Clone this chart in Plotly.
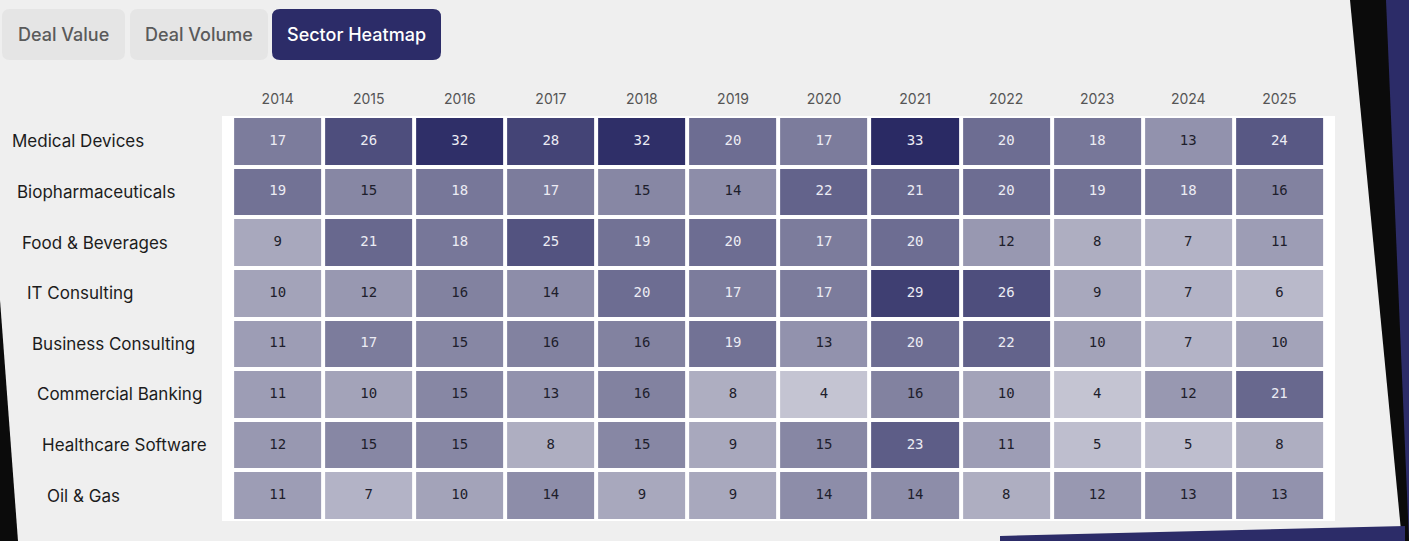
import plotly.graph_objects as go

years = ["2014", "2015", "2016", "2017", "2018", "2019", "2020", "2021", "2022", "2023", "2024", "2025"]
sectors = ["Medical Devices", "Biopharmaceuticals", "Food & Beverages", "IT Consulting",
           "Business Consulting", "Commercial Banking", "Healthcare Software", "Oil & Gas"]

medical_devices = [17, 26, 32, 28, 32, 20, 17, 33, 20, 18, 13, 24]
biopharmaceuticals = [19, 15, 18, 17, 15, 14, 22, 21, 20, 19, 18, 16]
food_beverages = [9, 21, 18, 25, 19, 20, 17, 20, 12, 8, 7, 11]
it_consulting = [10, 12, 16, 14, 20, 17, 17, 29, 26, 9, 7, 6]
business_consulting = [11, 17, 15, 16, 16, 19, 13, 20, 22, 10, 7, 10]
commercial_banking = [11, 10, 15, 13, 16, 8, 4, 16, 10, 4, 12, 21]
healthcare_software = [12, 15, 15, 8, 15, 9, 15, 23, 11, 5, 5, 8]
oil_gas = [11, 7, 10, 14, 9, 9, 14, 14, 8, 12, 13, 13]

tabs = ["Deal Value", "Deal Volume", "Sector Heatmap"]

z = [medical_devices, biopharmaceuticals, food_beverages, it_consulting,
     business_consulting, commercial_banking, healthcare_software, oil_gas]

W, H = 1409, 541
ML, MR, MT, MB = 222, 74, 116, 20
PW, PH = W - ML - MR, H - MT - MB


def px(x):
    return (x - ML) / PW


def py(y):
    return (H - MB - y) / PH


def rounded_rect(x0, y0, x1, y1, r):
    pts = [
        f"M {px(x0 + r)},{py(y0)}",
        f"L {px(x1 - r)},{py(y0)}",
        f"Q {px(x1)},{py(y0)} {px(x1)},{py(y0 + r)}",
        f"L {px(x1)},{py(y1 - r)}",
        f"Q {px(x1)},{py(y1)} {px(x1 - r)},{py(y1)}",
        f"L {px(x0 + r)},{py(y1)}",
        f"Q {px(x0)},{py(y1)} {px(x0)},{py(y1 - r)}",
        f"L {px(x0)},{py(y0 + r)}",
        f"Q {px(x0)},{py(y0)} {px(x0 + r)},{py(y0)}",
        "Z",
    ]
    return " ".join(pts)


fig = go.Figure()
fig.add_trace(go.Heatmap(
    z=z, x=years, y=sectors,
    colorscale=[[0, "rgb(196,196,210)"], [0.45, "rgb(124,124,156)"], [1, "rgb(42,42,100)"]],
    zmin=4, zmax=33, xgap=4, ygap=4, showscale=False, hoverongaps=False,
))

dx, dy, dt, lx, ly, lt = [], [], [], [], [], []
for r, s in enumerate(sectors):
    for c, yr in enumerate(years):
        v = z[r][c]
        if v >= 17:
            lx.append(yr); ly.append(s); lt.append(str(v))
        else:
            dx.append(yr); dy.append(s); dt.append(str(v))
fig.add_trace(go.Scatter(x=dx, y=dy, text=dt, mode="text", hoverinfo="skip",
                         textfont=dict(family="DejaVu Sans Mono", size=14, color="#1e1e2c")))
fig.add_trace(go.Scatter(x=lx, y=ly, text=lt, mode="text", hoverinfo="skip",
                         textfont=dict(family="DejaVu Sans Mono", size=14, color="#ececf4")))

for i, s in enumerate(sectors):
    fig.add_annotation(x=px(10 + i * 5), xref="paper", y=s, yref="y", text=s,
                       xanchor="left", showarrow=False,
                       font=dict(family="Inter, Roboto, sans-serif", size=17, color="#1c1c1c"))

tab_boxes = [(2, 125), (130, 268), (272, 441)]
for (x0, x1), t in zip(tab_boxes, tabs):
    active = t == "Sector Heatmap"
    fig.add_shape(type="path", xref="paper", yref="paper",
                  path=rounded_rect(x0, 9, x1, 60, 8),
                  fillcolor="#2c2c68" if active else "#e5e5e5", line=dict(width=0),
                  layer="below")
    fig.add_annotation(x=px((x0 + x1) / 2), y=py(34), xref="paper", yref="paper",
                       text=t, showarrow=False, xanchor="center", yanchor="middle",
                       font=dict(family="Inter, Roboto, sans-serif", size=18, weight=500,
                                 color="#ffffff" if active else "#5a5a5a"))

fig.add_shape(type="path", xref="paper", yref="paper",
              path=f"M {px(1350)},{py(0)} L {px(1409)},{py(0)} L {px(1409)},{py(541)} L {px(1402)},{py(541)} Z",
              fillcolor="#0b0b0b", line=dict(width=0))
fig.add_shape(type="path", xref="paper", yref="paper",
              path=f"M {px(1386)},{py(0)} L {px(1409)},{py(0)} L {px(1409)},{py(541)} Z",
              fillcolor="#2c2c68", line=dict(width=0))
fig.add_shape(type="path", xref="paper", yref="paper",
              path=f"M {px(1000)},{py(536)} L {px(1405)},{py(526)} L {px(1405)},{py(541)} L {px(1000)},{py(541)} Z",
              fillcolor="#2c2c68", line=dict(width=0))
fig.add_shape(type="path", xref="paper", yref="paper",
              path=f"M {px(0)},{py(300)} L {px(18)},{py(541)} L {px(0)},{py(541)} Z",
              fillcolor="#0b0b0b", line=dict(width=0))

fig.update_layout(
    width=W, height=H,
    margin=dict(l=ML, r=MR, t=MT, b=MB),
    paper_bgcolor="#efefef", plot_bgcolor="#ffffff",
    showlegend=False,
    xaxis=dict(side="top", showgrid=False, zeroline=False, ticks="", ticklabelstandoff=8,
               tickfont=dict(family="Inter, Roboto, sans-serif", size=14, color="#555555")),
    yaxis=dict(autorange="reversed", showgrid=False, zeroline=False, showticklabels=False, ticks=""),
)

fig.write_html("out.html", config={"displayModeBar": False},
               post_script="document.body.style.margin='0';document.body.style.overflow='hidden';")
